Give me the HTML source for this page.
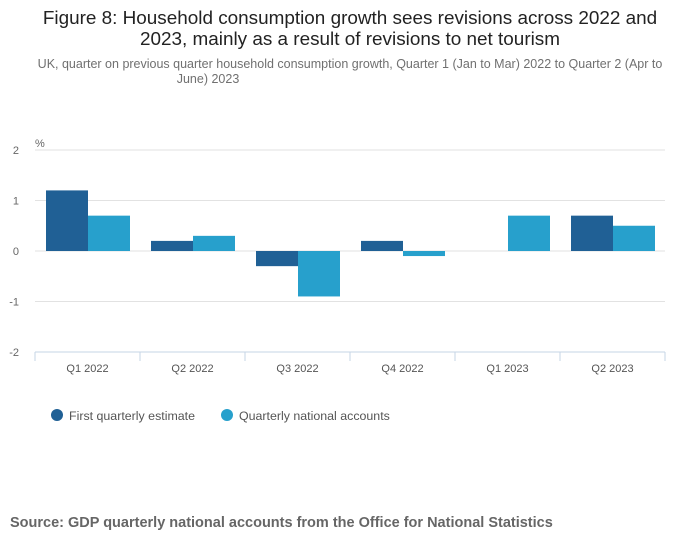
<!DOCTYPE html>
<html><head><meta charset="utf-8"><style>
body{margin:0;background:#fff;font-family:"Liberation Sans",sans-serif;}
svg text{font-family:"Liberation Sans",sans-serif;}
</style></head><body>
<svg width="700" height="549">
<text x="350" y="24" text-anchor="middle" font-size="18.9" fill="#222">Figure 8: Household consumption growth sees revisions across 2022 and</text>
<text x="350" y="45" text-anchor="middle" font-size="18.9" fill="#222">2023, mainly as a result of revisions to net tourism</text>
<text x="350" y="68" text-anchor="middle" font-size="12.5" fill="#707070">UK, quarter on previous quarter household consumption growth, Quarter 1 (Jan to Mar) 2022 to Quarter 2 (Apr to</text>
<text x="208" y="83" text-anchor="middle" font-size="12.5" fill="#707070">June) 2023</text>
<text x="35" y="147" font-size="11" fill="#666">%</text>
<g id="grid"></g><g id="bars"></g><g id="xaxis"></g>
<g>
<circle cx="57" cy="415" r="6" fill="#206095"/>
<text x="69" y="420" font-size="12.4" fill="#555">First quarterly estimate</text>
<circle cx="227" cy="415" r="6" fill="#27a0cc"/>
<text x="239" y="420" font-size="12.4" fill="#555">Quarterly national accounts</text>
</g>
<text x="10" y="527" font-size="14.5" font-weight="bold" fill="#666">Source: GDP quarterly national accounts from the Office for National Statistics</text>
</svg>
<script>
const categories=["Q1 2022","Q2 2022","Q3 2022","Q4 2022","Q1 2023","Q2 2023"];
const firstEstimate=[1.2,0.2,-0.3,0.2,0,0.7];
const nationalAccounts=[0.7,0.3,-0.9,-0.1,0.7,0.5];
const yTicks=[2,1,0,-1,-2];
const NS="http://www.w3.org/2000/svg";
const x0=35,x1=665,yTop=150,yBot=352;
const y=v=>yTop+(2-v)*(yBot-yTop)/4;
const bw=(x1-x0)/categories.length;
function mk(t,a,p){const e=document.createElementNS(NS,t);for(const k in a)e.setAttribute(k,a[k]);p.appendChild(e);return e;}
const g=document.getElementById('grid'),b=document.getElementById('bars'),xa=document.getElementById('xaxis');
yTicks.forEach(t=>{
 if(t!==-2){const l=mk('line',{x1:x0,x2:x1,y1:y(t),y2:y(t),stroke:'#e2e2e2'},g);
 
 }
 const tx=mk('text',{x:19,y:y(t)+4,'text-anchor':'end','font-size':11,fill:'#666'},g);tx.textContent=t;
 
 
});
const ax=mk('line',{x1:x0,x2:x1,y1:yBot,y2:yBot,stroke:'#c6d4e6'},xa);


for(let i=0;i<=categories.length;i++){const tk=mk('line',{x1:x0+i*bw,x2:x0+i*bw,y1:yBot,y2:yBot+9,stroke:'#c6d4e6'},xa);
 
 }
categories.forEach((c,i)=>{
 const tx=mk('text',{x:x0+(i+.5)*bw,y:372,'text-anchor':'middle','font-size':11,fill:'#555'},xa);tx.textContent=c;
 
 
 const w=42,start=x0+i*bw+11;
 [[firstEstimate[i],'#206095',0],[nationalAccounts[i],'#27a0cc',1]].forEach(([v,col,k])=>{
  const r=mk('rect',{x:start+k*w,y:Math.min(y(v),y(0)),width:w,height:Math.abs(y(v)-y(0)),fill:col},b);
  
  
 });
});
</script>
</body></html>
